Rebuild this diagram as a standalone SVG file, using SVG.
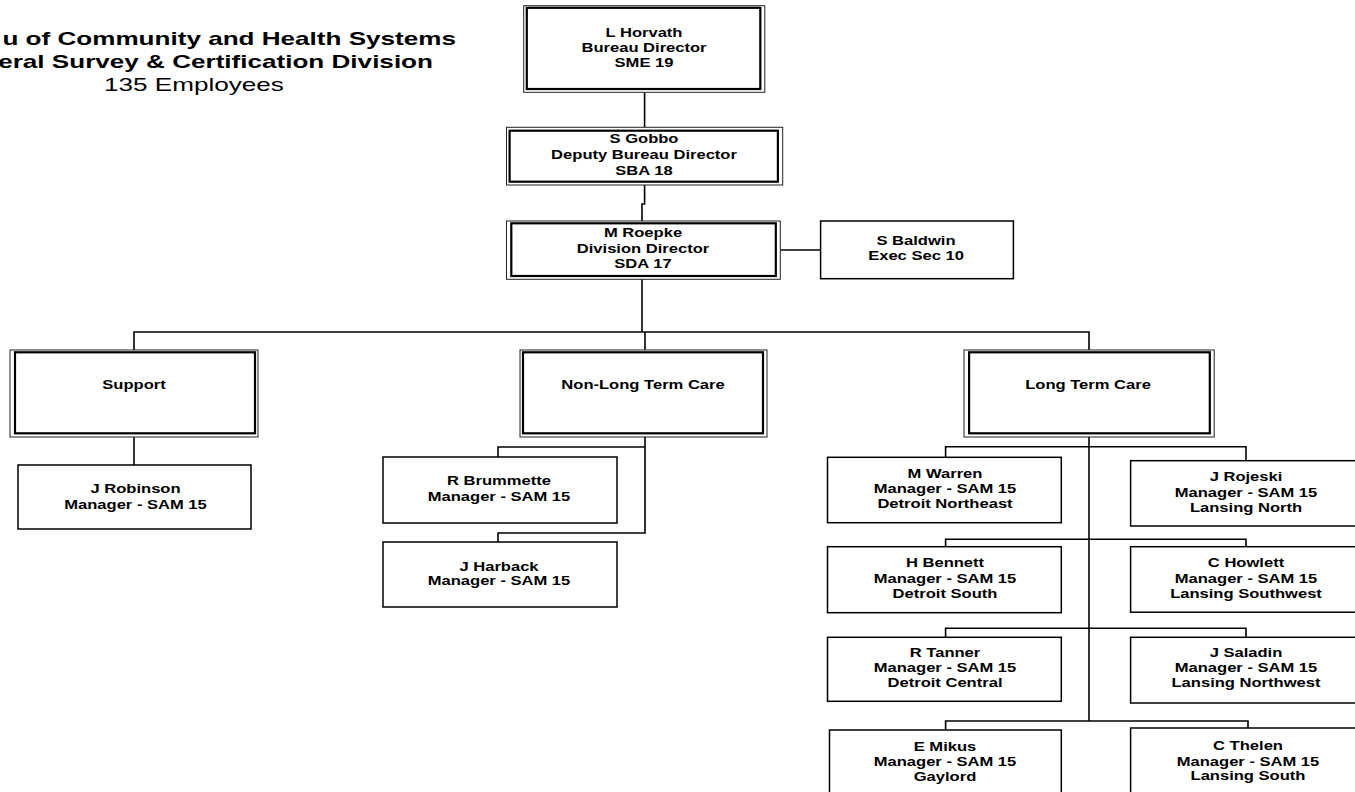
<svg xmlns="http://www.w3.org/2000/svg" width="1355" height="792" viewBox="0 0 1355 792">
<style>
.box{fill:#fff;stroke:#000;stroke-width:1.5}
.outer{fill:#fff;stroke:#222;stroke-width:1}
.inner{fill:none;stroke:#000;stroke-width:2.2}
.conn{fill:none;stroke:#000;stroke-width:1.6}
text{font-family:"Liberation Sans",Arial,sans-serif;font-weight:bold;font-size:12px;text-anchor:middle;fill:#000}
.title text{font-size:18.5px}
.title .reg{font-weight:normal}
</style>
<rect width="1355" height="792" fill="#fff"/>
<g id="title" class="title">
<g transform="translate(456 0) scale(1.41 1)"><text x="0" y="45.5" style="text-anchor:end">u of Community and Health Systems</text></g>
<g transform="translate(433 0) scale(1.41 1)"><text x="0" y="68.5" style="text-anchor:end">eral Survey &amp; Certification Division</text></g>
<g transform="translate(194 0) scale(1.41 1)"><text class="reg" x="0" y="91">135 Employees</text></g>
</g>
<g id="connectors">
<path class="conn" d="M644.6 92.3V127.3"/>
<path class="conn" d="M644.6 185V204H642V221"/>
<path class="conn" d="M780.3 250H820.6"/>
<path class="conn" d="M642 279.3V332"/>
<path class="conn" d="M134 350V332H1089V350"/>
<path class="conn" d="M645 332V350"/>
<path class="conn" d="M134 437V465"/>
<path class="conn" d="M645 437V533H498V542"/>
<path class="conn" d="M645 447H498V457"/>
<path class="conn" d="M1089 437V721"/>
<path class="conn" d="M945.6 457.3V446.7H1246V460.7"/>
<path class="conn" d="M945.6 546.7V539.3H1246V546.7"/>
<path class="conn" d="M945.6 637.3V628.3H1246V637.3"/>
<path class="conn" d="M945.6 730V721H1248V728"/>
</g>
<g id="horvath">
<rect class="outer" x="523.7" y="5.7" width="241.1" height="86.6"/>
<rect class="inner" x="526.8" y="7.8" width="233.5" height="81.2"/>
<g transform="translate(644 0) scale(1.38 1)"><text x="0" y="37">L Horvath</text><text x="0" y="52.5">Bureau Director</text><text x="0" y="67">SME 19</text></g>
</g>
<g id="gobbo">
<rect class="outer" x="506.5" y="127.3" width="276.2" height="57.7"/>
<rect class="inner" x="509.6" y="130.7" width="268.3" height="51"/>
<g transform="translate(644 0) scale(1.38 1)"><text x="0" y="143.5">S Gobbo</text><text x="0" y="159">Deputy Bureau Director</text><text x="0" y="175">SBA 18</text></g>
</g>
<g id="roepke">
<rect class="outer" x="506.5" y="221" width="273.8" height="58.3"/>
<rect class="inner" x="511.3" y="223.3" width="264.5" height="52.7"/>
<g transform="translate(643 0) scale(1.38 1)"><text x="0" y="237.5">M Roepke</text><text x="0" y="253">Division Director</text><text x="0" y="268">SDA 17</text></g>
</g>
<g id="baldwin">
<rect class="box" x="820.6" y="221" width="192.8" height="57.7"/>
<g transform="translate(916 0) scale(1.38 1)"><text x="0" y="245">S Baldwin</text><text x="0" y="260">Exec Sec 10</text></g>
</g>
<g id="support">
<rect class="outer" x="10" y="350" width="248" height="87"/>
<rect class="inner" x="15" y="352.3" width="240" height="81"/>
<g transform="translate(134 0) scale(1.38 1)"><text x="0" y="389">Support</text></g>
</g>
<g id="robinson">
<rect class="box" x="18" y="465" width="233" height="64"/>
<g transform="translate(135.5 0) scale(1.38 1)"><text x="0" y="493">J Robinson</text><text x="0" y="509">Manager - SAM 15</text></g>
</g>
<g id="nltc">
<rect class="outer" x="520" y="350" width="247" height="87"/>
<rect class="inner" x="523" y="352.3" width="240" height="81"/>
<g transform="translate(643 0) scale(1.38 1)"><text x="0" y="389">Non-Long Term Care</text></g>
</g>
<g id="brummette">
<rect class="box" x="383" y="457" width="234" height="66"/>
<g transform="translate(499 0) scale(1.38 1)"><text x="0" y="485">R Brummette</text><text x="0" y="501">Manager - SAM 15</text></g>
</g>
<g id="harback">
<rect class="box" x="383" y="542" width="234" height="65"/>
<g transform="translate(499 0) scale(1.38 1)"><text x="0" y="571">J Harback</text><text x="0" y="585.5">Manager - SAM 15</text></g>
</g>
<g id="ltc">
<rect class="outer" x="964" y="350" width="250.2" height="87"/>
<rect class="inner" x="969.1" y="352.3" width="240.7" height="81"/>
<g transform="translate(1088 0) scale(1.38 1)"><text x="0" y="389">Long Term Care</text></g>
</g>
<g id="warren">
<rect class="box" x="827.5" y="457.3" width="233.8" height="65.4"/>
<g transform="translate(945 0) scale(1.38 1)"><text x="0" y="478.5">M Warren</text><text x="0" y="493.5">Manager - SAM 15</text><text x="0" y="508">Detroit Northeast</text></g>
</g>
<g id="rojeski">
<rect class="box" x="1130.6" y="460.7" width="228" height="65.3"/>
<g transform="translate(1246 0) scale(1.38 1)"><text x="0" y="481.5">J Rojeski</text><text x="0" y="497.5">Manager - SAM 15</text><text x="0" y="512">Lansing North</text></g>
</g>
<g id="bennett">
<rect class="box" x="827.5" y="546.7" width="233.8" height="66"/>
<g transform="translate(945 0) scale(1.38 1)"><text x="0" y="567.5">H Bennett</text><text x="0" y="583.5">Manager - SAM 15</text><text x="0" y="598">Detroit South</text></g>
</g>
<g id="howlett">
<rect class="box" x="1130.6" y="546.7" width="228" height="65.5"/>
<g transform="translate(1246 0) scale(1.38 1)"><text x="0" y="567.5">C Howlett</text><text x="0" y="583.5">Manager - SAM 15</text><text x="0" y="598">Lansing Southwest</text></g>
</g>
<g id="tanner">
<rect class="box" x="827.5" y="637.3" width="233.8" height="64"/>
<g transform="translate(945 0) scale(1.38 1)"><text x="0" y="657">R Tanner</text><text x="0" y="672.5">Manager - SAM 15</text><text x="0" y="687">Detroit Central</text></g>
</g>
<g id="saladin">
<rect class="box" x="1130.6" y="637.3" width="228" height="65.7"/>
<g transform="translate(1246 0) scale(1.38 1)"><text x="0" y="657">J Saladin</text><text x="0" y="672.5">Manager - SAM 15</text><text x="0" y="687">Lansing Northwest</text></g>
</g>
<g id="mikus">
<rect class="box" x="829.5" y="730" width="231.8" height="70"/>
<g transform="translate(945 0) scale(1.38 1)"><text x="0" y="751">E Mikus</text><text x="0" y="766">Manager - SAM 15</text><text x="0" y="781">Gaylord</text></g>
</g>
<g id="thelen">
<rect class="box" x="1130.6" y="728" width="228" height="72"/>
<g transform="translate(1248 0) scale(1.38 1)"><text x="0" y="750">C Thelen</text><text x="0" y="766">Manager - SAM 15</text><text x="0" y="780">Lansing South</text></g>
</g>
</svg>
